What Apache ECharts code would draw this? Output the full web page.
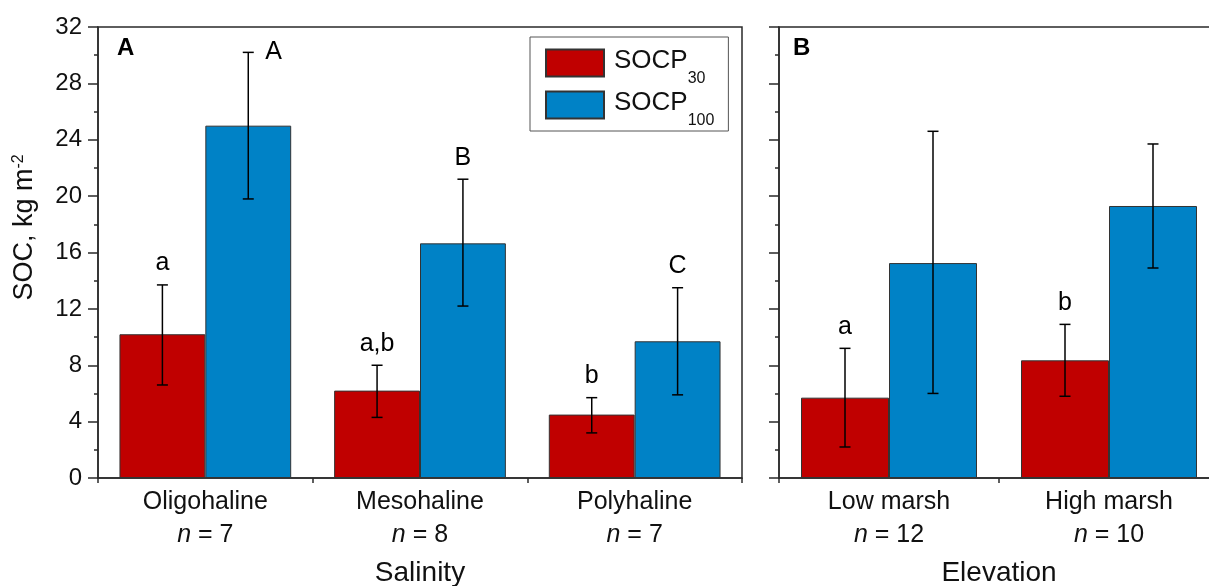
<!DOCTYPE html>
<html>
<head>
<meta charset="utf-8">
<script src="https://cdn.jsdelivr.net/npm/echarts@6/dist/echarts.min.js"></script>
<style>
  html, body { margin: 0; padding: 0; background: #fff; }
  #chart { width: 1209px; height: 586px; }
</style>
</head>
<body>
<div id="chart"></div>
<script>
// Soil organic carbon pools (0-30 cm and 0-100 cm) by salinity regime and marsh elevation
const salinityCats = ['Oligohaline', 'Mesohaline', 'Polyhaline'];
const salinityN = [7, 8, 7];
const sal30 = [10.2, 6.2, 4.5];
const sal30Lo = [6.6, 4.3, 3.2];
const sal30Hi = [13.7, 8.0, 5.7];
const sal30Letters = ['a', 'a,b', 'b'];
const sal100 = [25.0, 16.65, 9.7];
const sal100Lo = [19.8, 12.2, 5.9];
const sal100Hi = [30.2, 21.2, 13.5];
const sal100Letters = ['A', 'B', 'C'];

const elevationCats = ['Low marsh', 'High marsh'];
const elevationN = [12, 10];
const elev30 = [5.7, 8.35];
const elev30Lo = [2.2, 5.8];
const elev30Hi = [9.2, 10.9];
const elev30Letters = ['a', 'b'];
const elev100 = [15.25, 19.3];
const elev100Lo = [6.0, 14.9];
const elev100Hi = [24.6, 23.7];
const elev100Letters = ['', ''];

const yMin = 0, yMax = 32, yStep = 4;

const FONT = '"Liberation Sans", Arial, Helvetica, sans-serif';
const INK = '#111';
const LINE = '#2a2a2a';
const RED = '#C00000';
const BLUE = '#0082C6';

// error bars with significance letters; side -1 = left bar of the pair, +1 = right bar
function errorSeries(gridIdx, lo, hi, letters, side) {
  return {
    type: 'custom',
    xAxisIndex: gridIdx,
    yAxisIndex: gridIdx,
    z: 5,
    silent: true,
    data: lo.map((l, i) => [i, l, hi[i]]),
    encode: { x: 0, y: [1, 2] },
    renderItem(params, api) {
      const i = api.value(0);
      const band = api.size([1, 0])[0];
      const top = api.coord([i, api.value(2)]);
      const bot = api.coord([i, api.value(1)]);
      const x = top[0] + side * band * 0.2;
      const cap = 5.5;
      const ls = { stroke: '#000', lineWidth: 1.5 };
      const children = [
        { type: 'line', shape: { x1: x, y1: top[1], x2: x, y2: bot[1] }, style: ls },
        { type: 'line', shape: { x1: x - cap, y1: top[1], x2: x + cap, y2: top[1] }, style: ls },
        { type: 'line', shape: { x1: x - cap, y1: bot[1], x2: x + cap, y2: bot[1] }, style: ls }
      ];
      const letter = letters[i];
      if (letter) {
        // put the letter beside the cap when there is no room above it
        const above = top[1] - 10 - 26 > params.coordSys.y;
        children.push({
          type: 'text',
          x: above ? x : x + 17,
          y: above ? top[1] - 9 : top[1],
          style: {
            text: letter, fontSize: 25, fontFamily: FONT, fill: '#000',
            align: above ? 'center' : 'left',
            verticalAlign: above ? 'bottom' : 'middle'
          }
        });
      }
      return { type: 'group', children };
    }
  };
}

function barSeries(name, gridIdx, values, color) {
  return {
    name, type: 'bar',
    xAxisIndex: gridIdx, yAxisIndex: gridIdx,
    data: values,
    barGap: '0%', barCategoryGap: '20%',
    itemStyle: { color, borderColor: '#333', borderWidth: 1 },
    z: 2
  };
}

const catRich = {
  c: { fontSize: 25, fontFamily: FONT, color: INK, lineHeight: 33 },
  i: { fontSize: 25, fontFamily: FONT, color: INK, lineHeight: 33, fontStyle: 'italic' }
};

function xAxis(gridIdx, cats, ns, title) {
  return {
    gridIndex: gridIdx, type: 'category', data: cats,
    axisLine: { lineStyle: { color: LINE, width: 1.5 } },
    axisTick: { show: true, length: 5, interval: 0, lineStyle: { color: LINE, width: 1.5 } },
    axisLabel: {
      interval: 0, margin: 8,
      formatter: (v, idx) => `{c|${v}}\n{i|n}{c| = ${ns[idx]}}`,
      rich: catRich
    },
    name: title, nameLocation: 'middle', nameGap: 81,
    nameTextStyle: { fontSize: 28, fontFamily: FONT, color: INK }
  };
}

function yAxis(gridIdx, withLabels) {
  const ax = {
    gridIndex: gridIdx, type: 'value', min: yMin, max: yMax, interval: yStep,
    axisLine: { show: true, lineStyle: { color: LINE, width: 1.5 } },
    axisTick: { show: true, inside: false, length: 10, lineStyle: { color: LINE, width: 1.5 } },
    minorTick: { show: true, splitNumber: 2, length: 4, lineStyle: { color: LINE, width: 1.5 } },
    splitLine: { show: false },
    axisLabel: { show: withLabels, fontSize: 24, fontFamily: FONT, color: INK, margin: 16 }
  };
  if (withLabels) {
    ax.name = '{m|SOC, kg m}{sup|-2}';
    ax.nameLocation = 'middle';
    ax.nameGap = 60;
    ax.nameTextStyle = {
      padding: [0, 0, 0, 50],
      rich: {
        m: { fontSize: 27, fontFamily: FONT, color: INK },
        sup: { fontSize: 16, fontFamily: FONT, color: INK, verticalAlign: 'top' }
      }
    };
  }
  return ax;
}

const chart = echarts.init(document.getElementById('chart'), null, { renderer: 'canvas' });

chart.setOption({
  animation: false,
  backgroundColor: '#fff',
  textStyle: { fontFamily: FONT },
  title: [
    { text: 'A', left: 117, top: 36, padding: 0, textStyle: { fontSize: 24, fontWeight: 'bold', fontFamily: FONT, color: '#000' } },
    { text: 'B', left: 793, top: 36, padding: 0, textStyle: { fontSize: 24, fontWeight: 'bold', fontFamily: FONT, color: '#000' } }
  ],
  legend: {
    data: ['SOCP30', 'SOCP100'],
    orient: 'vertical',
    left: 530, top: 37,
    padding: [11, 14, 2, 15],
    itemWidth: 58, itemHeight: 27, itemGap: 3, itemTextGap: 10,
    borderColor: '#555', borderWidth: 1,
    icon: 'rect',
    formatter: name => '{m|SOCP}{s|' + name.slice(4) + '}',
    textStyle: {
      rich: {
        m: { fontSize: 26, fontFamily: FONT, color: INK, verticalAlign: 'top', padding: [9, 0, 0, 5] },
        s: { fontSize: 16, fontFamily: FONT, color: INK, verticalAlign: 'bottom', lineHeight: 48 }
      }
    },
    selectedMode: false
  },
  grid: [
    { left: 98, top: 27, width: 644, height: 451, show: true, borderColor: LINE, borderWidth: 1.5, outerBoundsMode: 'none' },
    { left: 779, top: 27, width: 440, height: 451, show: true, borderColor: LINE, borderWidth: 1.5, outerBoundsMode: 'none' }
  ],
  xAxis: [
    xAxis(0, salinityCats, salinityN, 'Salinity'),
    xAxis(1, elevationCats, elevationN, 'Elevation')
  ],
  yAxis: [yAxis(0, true), yAxis(1, false)],
  series: [
    barSeries('SOCP30', 0, sal30, RED),
    barSeries('SOCP100', 0, sal100, BLUE),
    barSeries('SOCP30', 1, elev30, RED),
    barSeries('SOCP100', 1, elev100, BLUE),
    errorSeries(0, sal30Lo, sal30Hi, sal30Letters, -1),
    errorSeries(0, sal100Lo, sal100Hi, sal100Letters, 1),
    errorSeries(1, elev30Lo, elev30Hi, elev30Letters, -1),
    errorSeries(1, elev100Lo, elev100Hi, elev100Letters, 1)
  ]
});
</script>
</body>
</html>
